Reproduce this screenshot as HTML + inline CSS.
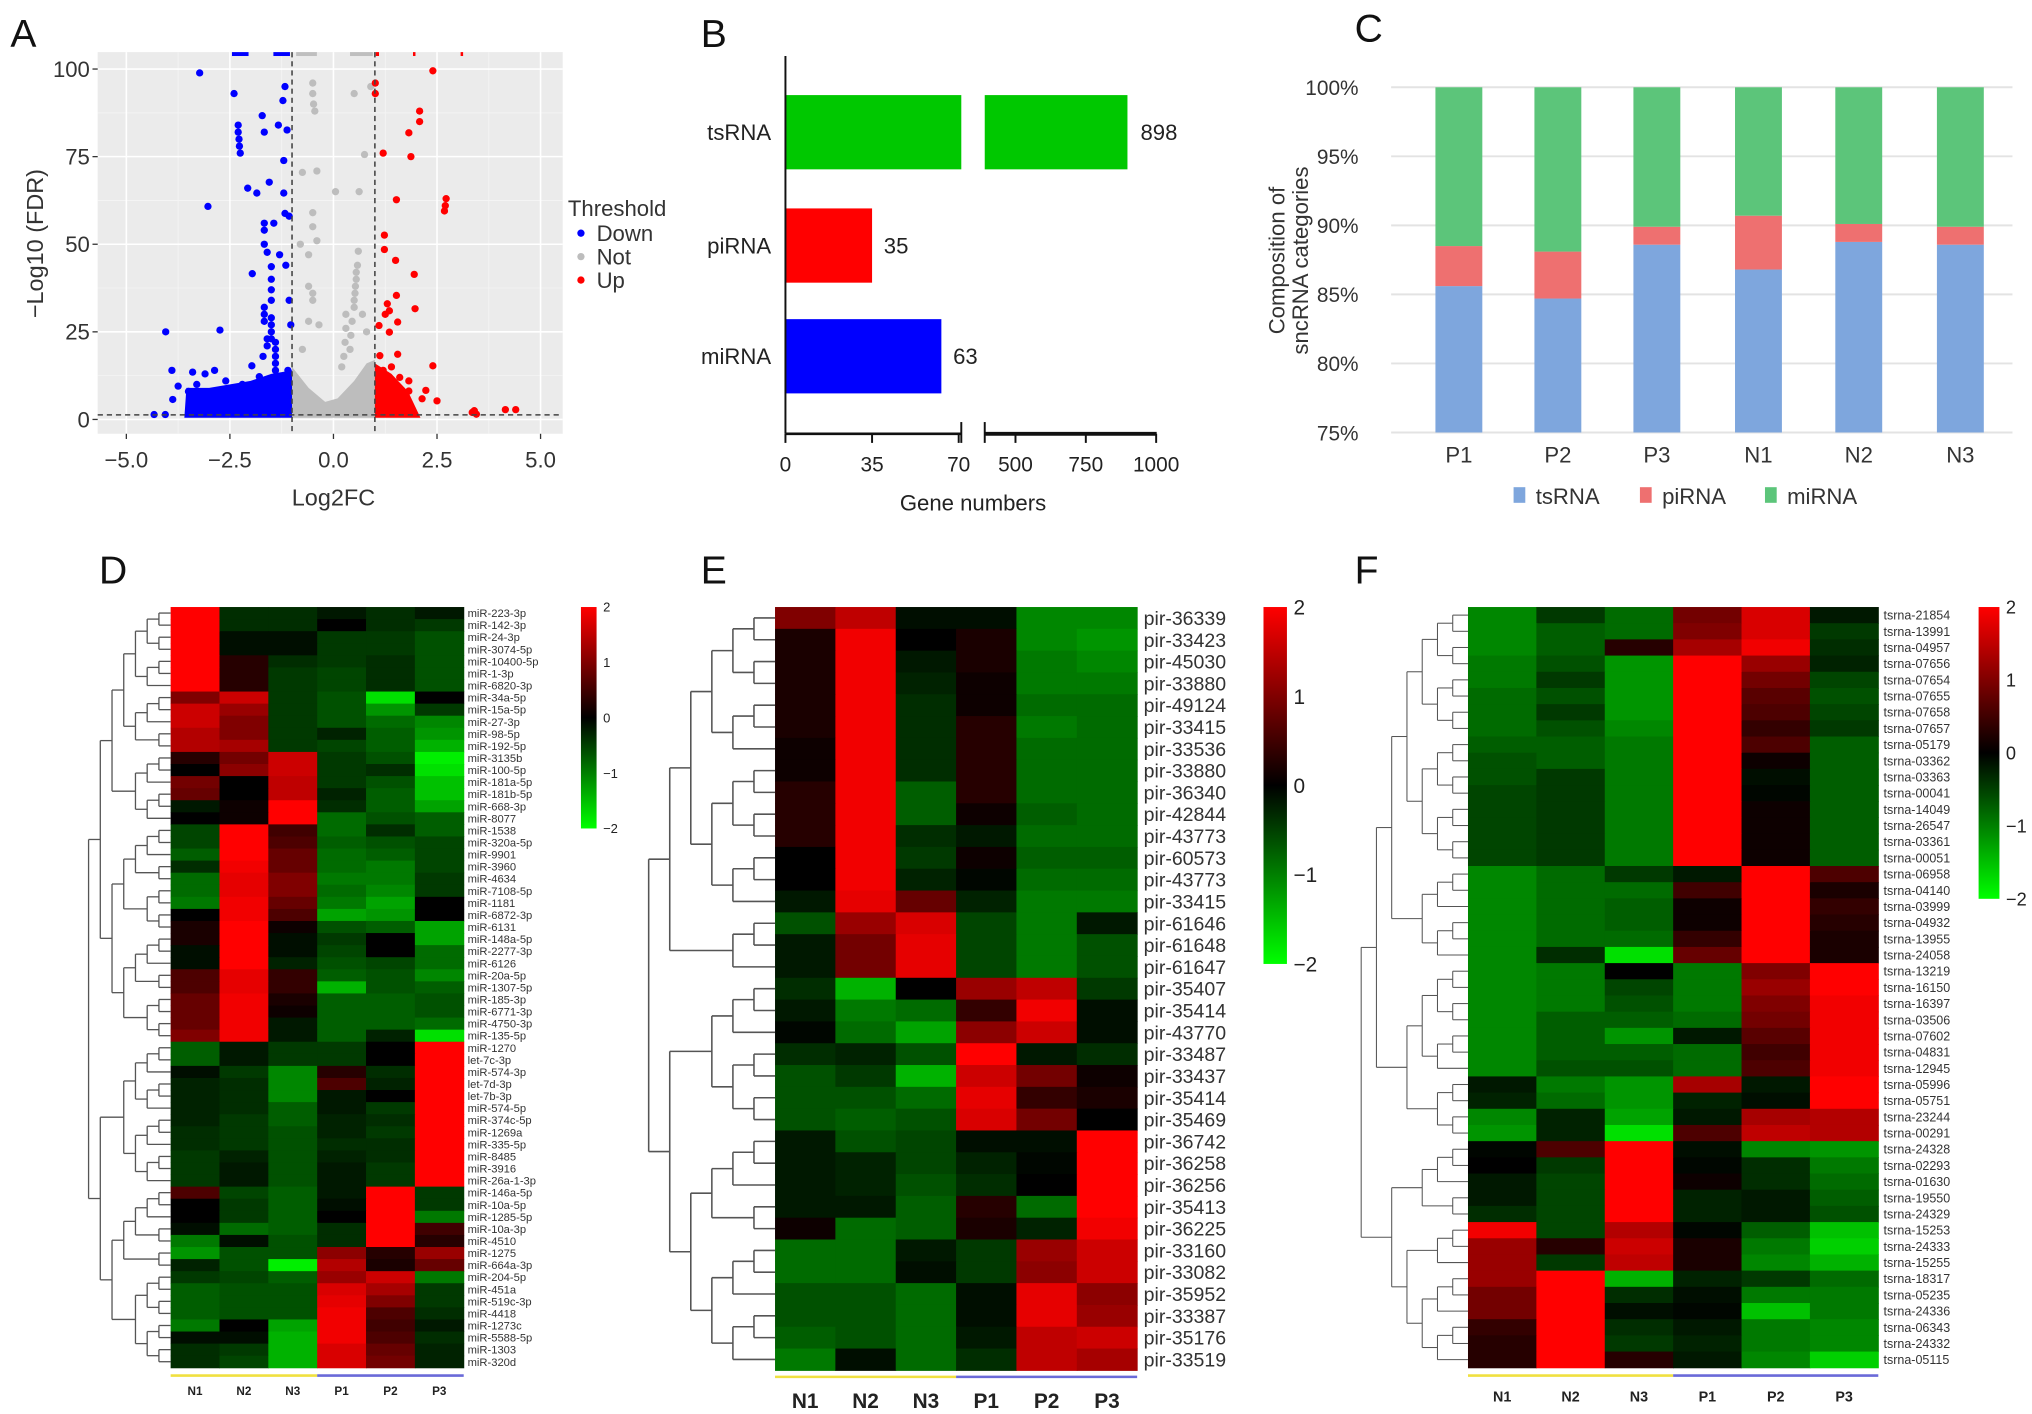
<!DOCTYPE html>
<html><head><meta charset="utf-8">
<style>
html,body{margin:0;padding:0;background:#fff;}
svg{display:block;font-family:"Liberation Sans",Arial,sans-serif;}
</style></head>
<body>
<svg id="fig" width="2032" height="1414" viewBox="0 0 1560 1085.5" preserveAspectRatio="none" xmlns="http://www.w3.org/2000/svg">
<g font-size="30" fill="#111">
<text x="8" y="36">A</text>
<text x="538" y="36">B</text>
<text x="1040" y="32">C</text>
<text x="76" y="448">D</text>
<text x="538" y="448">E</text>
<text x="1040" y="448">F</text>
</g>
<g id="pA"></g>
<g id="pB"></g>
<g id="pC"></g>
<g id="pD"></g>
<g id="pE"></g>
<g id="pF"></g>
</svg>
<script>
// ---------- Panel A data ----------
const downPts = [[-3.23,98.9],[-2.4,93],[-1.17,95],[-1.22,91],[-1.72,86.7],[-1.67,82],[-1.33,84],[-1.12,82.6],[-2.3,84],[-2.3,82],[-2.28,80],[-2.27,78],[-2.25,76],[-1.2,73.9],[-2.07,66],[-1.85,64.6],[-1.55,67.7],[-1.2,64.6],[-3.03,60.8],[-1.17,58.8],[-1.07,58],[-1.67,56],[-1.67,54],[-1.44,56],[-1.67,50],[-1.6,47.7],[-1.3,47],[-1.15,44],[-1.96,41.6],[-1.5,43.6],[-1.5,40],[-1.5,37],[-1.5,34],[-1.07,34],[-1.67,32],[-1.67,30],[-1.67,28],[-1.5,29],[-1.5,27],[-1.5,25],[-1.5,23],[-1.03,27],[-4.05,25],[-2.74,25.5],[-1.6,23],[-1.6,21],[-1.4,22],[-1.4,20],[-1.4,18],[-1.4,16],[-1.4,14],[-1.7,18],[-1.97,15.3],[-1.79,12.2],[-3.9,14],[-3.75,9.5],[-3.88,5.7],[-4.33,1.4],[-4.06,1.4],[-2.87,14],[-3.4,13.5],[-3.1,13],[-1.3,12],[-1.2,10],[-1.1,14],[-2.6,11],[-2.2,10],[-3.3,10],[-3.5,8]];
const upPts = [[2.4,99.5],[2.08,88],[2.08,85],[1.82,81.8],[1.87,75],[1.2,76],[1.01,96],[1.01,93],[1.52,62.7],[2.72,63],[2.7,61],[2.68,59.5],[1.23,52.6],[1.23,48.5],[1.5,45.4],[1.95,41.4],[1.52,35.4],[1.97,31.6],[1.3,33],[1.35,31],[1.25,30],[1.55,27.8],[1.1,26.8],[1.35,24.9],[2.4,15.3],[2.23,8.3],[1.82,11],[1.82,8.1],[2.14,5.9],[2.5,5.3],[3.4,2.5],[3.45,1.5],[3.35,2],[4.15,2.8],[4.4,2.8],[1.55,18.6],[1.12,18.2],[1.4,15],[1.6,12],[1.2,14]];
const notPts = [[0.5,93],[0.9,95],[-0.5,96],[-0.5,93],[-0.48,90],[-0.45,88],[0.75,75.6],[-0.75,70.5],[-0.4,70.9],[0.05,65],[0.62,65],[-0.5,59],[-0.5,55],[-0.4,51],[-0.8,50],[-0.6,47],[0.6,48],[0.58,44],[0.55,42],[0.55,40],[0.53,38],[0.52,36],[0.5,34],[0.5,32],[-0.6,38],[-0.5,36],[-0.5,34],[-0.6,28],[-0.35,27],[0.3,30],[0.3,26],[0.28,22],[0.25,18],[0.45,28],[0.42,24],[0.4,20],[-0.75,20],[0.7,30],[0.8,25],[0.2,15]];
const topClip = [[-2.45,-2.05,'#0000ff'],[-1.45,-1.05,'#0000ff'],[-0.9,-0.4,'#bfbfbf'],[0.4,0.95,'#bfbfbf'],[1.02,1.1,'#ff0000'],[1.92,1.98,'#ff0000'],[3.07,3.13,'#ff0000']];
const blueEnv = [[-3.6,0.5],[-3.55,9],[-3.0,9],[-2.5,10],[-2.0,11],[-1.5,13],[-1.0,14],[-1.0,0.5]];
const grayEnv = [[-1.0,0.5],[-1.0,15],[-0.6,9],[-0.2,5],[0.1,6],[0.5,11],[0.8,16],[1.0,17],[1.0,0.5]];
const redEnv = [[1.0,0.5],[1.0,16],[1.4,13],[1.8,8],[2.0,3],[2.1,0.5]];
const xTicksA = [-5,-2.5,0,2.5,5];
const yTicksA = [0,25,50,75,100];
// ---------- Panel B data ----------
const bCats = ['tsRNA','piRNA','miRNA'];
const bVals = [898,35,63];
const bColors = ['#00c800','#ff0000','#0000ff'];
const bTicksLow = [0,35,70];
const bTicksHigh = [500,750,1000];
// ---------- Panel C data ----------
const cSamples = ['P1','P2','P3','N1','N2','N3'];
const cTs = [85.6,84.7,88.6,86.8,88.8,88.6];
const cPi = [2.9,3.4,1.3,3.9,1.3,1.3];
const cMi = [11.5,11.9,10.1,9.3,9.9,10.1];
const cTicks = [75,80,85,90,95,100];
// ---------- Heatmap data ----------
const hmCols = ['N1','N2','N3','P1','P2','P3'];
const dLabels = ['miR-223-3p','miR-142-3p','miR-24-3p','miR-3074-5p','miR-10400-5p','miR-1-3p','miR-6820-3p','miR-34a-5p','miR-15a-5p','miR-27-3p','miR-98-5p','miR-192-5p','miR-3135b','miR-100-5p','miR-181a-5p','miR-181b-5p','miR-668-3p','miR-8077','miR-1538','miR-320a-5p','miR-9901','miR-3960','miR-4634','miR-7108-5p','miR-1181','miR-6872-3p','miR-6131','miR-148a-5p','miR-2277-3p','miR-6126','miR-20a-5p','miR-1307-5p','miR-185-3p','miR-6771-3p','miR-4750-3p','miR-135-5p','miR-1270','let-7c-3p','miR-574-3p','let-7d-3p','let-7b-3p','miR-574-5p','miR-374c-5p','miR-1269a','miR-335-5p','miR-8485','miR-3916','miR-26a-1-3p','miR-146a-5p','miR-10a-5p','miR-1285-5p','miR-10a-3p','miR-4510','miR-1275','miR-664a-3p','miR-204-5p','miR-451a','miR-519c-3p','miR-4418','miR-1273c','miR-5588-5p','miR-1303','miR-320d'];
const dVals = [[2,-0.5,-0.5,-0.3,-0.5,-0.3],[2,-0.5,-0.5,0,-0.5,-0.6],[2,-0.2,-0.2,-0.6,-0.6,-0.8],[2,-0.2,-0.2,-0.6,-0.6,-0.8],[2,0.3,-0.5,-0.6,-0.5,-0.8],[2,0.3,-0.6,-0.7,-0.5,-0.8],[2,0.3,-0.6,-0.7,-0.5,-0.8],[1.0,1.6,-0.6,-0.8,-1.8,0],[1.6,1.2,-0.6,-0.8,-1.3,-0.6],[1.6,1.0,-0.6,-0.8,-1.0,-1.2],[1.4,1.0,-0.6,-0.4,-0.9,-1.3],[1.4,1.3,-0.6,-0.7,-0.9,-1.5],[0.3,0.9,1.6,-0.6,-0.8,-1.9],[0,1.1,1.6,-0.6,-0.5,-1.8],[0.9,0,1.5,-0.6,-0.8,-1.6],[0.8,0,1.5,-0.4,-0.9,-1.6],[-0.3,0.1,2,-0.5,-0.9,-1.4],[0,0.1,2,-1.0,-0.8,-0.9],[-0.7,2,0.5,-1.0,-0.5,-0.9],[-0.7,2,0.6,-0.9,-0.8,-0.7],[-0.9,2,0.8,-1.0,-0.9,-0.7],[-0.5,1.9,0.8,-1.0,-1.1,-0.7],[-1.0,1.8,1.0,-1.1,-1.1,-0.6],[-1.0,1.8,1.0,-1.0,-1.2,-0.6],[-1.1,1.9,0.8,-1.1,-1.4,0],[0,1.9,0.6,-1.4,-1.3,0],[0.2,2,0.1,-0.8,-0.9,-1.4],[0.2,2,-0.2,-0.6,0,-1.4],[-0.2,2,-0.2,-0.7,0,-1.0],[-0.2,2,-0.4,-0.8,-0.7,-1.0],[0.6,1.8,0.4,-0.9,-0.8,-1.2],[0.6,1.8,0.4,-1.5,-0.8,-0.9],[0.8,1.9,0.2,-0.9,-0.9,-0.8],[0.8,1.9,0.1,-0.9,-0.9,-0.8],[0.8,1.9,-0.3,-0.9,-0.9,-1.0],[1.0,1.9,-0.3,-0.9,-0.4,-1.8],[-0.9,-0.3,-0.6,-0.6,0,2],[-0.9,-0.3,-0.6,-0.6,0,2],[-0.2,-0.6,-1.2,0.3,-0.5,2],[-0.4,-0.5,-1.2,0.6,-0.4,2],[-0.4,-0.5,-1.2,-0.3,0,2],[-0.4,-0.5,-0.9,-0.3,-0.6,2],[-0.4,-0.6,-0.9,-0.4,-0.5,2],[-0.5,-0.6,-0.8,-0.4,-0.6,2],[-0.5,-0.6,-0.8,-0.5,-0.5,2],[-0.6,-0.4,-0.8,-0.4,-0.5,2],[-0.6,-0.3,-0.8,-0.3,-0.6,2],[-0.6,-0.3,-0.8,-0.3,-0.6,2],[0.6,-0.7,-0.9,-0.3,2,-0.6],[0,-0.6,-0.9,-0.2,2,-0.6],[0,-0.6,-0.9,0,2,-1.1],[-0.2,-1.0,-0.9,-0.5,2,0.5],[-1.1,-0.2,-0.8,-0.5,2,0.3],[-1.3,-0.8,-0.8,1.1,0.3,1.2],[-0.4,-0.8,-1.9,1.4,0.2,0.8],[-0.6,-0.7,-0.9,1.2,1.6,-1.1],[-0.9,-0.8,-0.8,1.7,1.3,-0.6],[-0.9,-0.8,-0.8,1.8,1.0,-0.6],[-0.9,-0.8,-0.8,1.9,0.6,-0.5],[-1.1,0,-1.4,1.9,0.5,-0.3],[-0.2,-0.2,-1.5,1.9,0.6,-0.5],[-0.5,-0.6,-1.5,1.7,0.8,-0.4],[-0.5,-0.7,-1.5,1.7,0.9,-0.4]];
const eLabels = ['pir-36339','pir-33423','pir-45030','pir-33880','pir-49124','pir-33415','pir-33536','pir-33880','pir-36340','pir-42844','pir-43773','pir-60573','pir-43773','pir-33415','pir-61646','pir-61648','pir-61647','pir-35407','pir-35414','pir-43770','pir-33487','pir-33437','pir-35414','pir-35469','pir-36742','pir-36258','pir-36256','pir-35413','pir-36225','pir-33160','pir-33082','pir-35952','pir-33387','pir-35176','pir-33519'];
const eVals = [[1.0,1.5,-0.2,-0.2,-1.2,-1.2],[0.2,1.9,0,0.2,-1.2,-1.3],[0.2,1.9,-0.3,0.2,-1.1,-1.2],[0.2,1.9,-0.4,0.1,-1.1,-1.1],[0.2,1.9,-0.5,0.1,-1.0,-1.0],[0.2,1.9,-0.5,0.3,-1.1,-1.0],[0.1,1.9,-0.5,0.3,-1.0,-1.0],[0.1,1.9,-0.5,0.3,-1.0,-1.0],[0.3,1.9,-0.9,0.3,-1.0,-1.0],[0.3,1.9,-0.9,0.1,-0.9,-1.0],[0.3,1.9,-0.5,-0.3,-1.0,-1.0],[0,1.9,-0.6,0.1,-0.9,-0.9],[0,1.9,-0.4,-0.1,-1.0,-1.0],[-0.3,1.8,0.8,-0.4,-1.1,-1.1],[-0.8,1.2,1.7,-0.7,-1.1,-0.3],[-0.3,0.9,1.8,-0.7,-1.1,-0.8],[-0.3,0.9,1.8,-0.7,-1.1,-0.8],[-0.5,-1.5,0,1.2,1.5,-0.6],[-0.3,-1.1,-1.0,0.4,1.9,-0.2],[-0.1,-1.0,-1.4,1.1,1.6,-0.2],[-0.5,-0.4,-0.8,2,-0.3,-0.5],[-0.8,-0.6,-1.5,1.6,0.9,0.1],[-0.8,-0.8,-1.0,1.8,0.4,0.2],[-0.8,-0.9,-0.8,1.7,0.9,0],[-0.3,-0.8,-0.7,-0.2,-0.2,2],[-0.3,-0.4,-0.7,-0.4,-0.1,2],[-0.3,-0.4,-0.8,-0.5,0,2],[-0.3,-0.3,-0.9,0.3,-1.0,2],[0.1,-1.0,-0.9,0.2,-0.4,1.9],[-1.0,-1.0,-0.3,-0.6,1.2,1.6],[-1.0,-1.0,-0.2,-0.6,1.1,1.6],[-0.8,-0.8,-1.0,-0.2,1.8,1.1],[-0.8,-0.8,-1.0,-0.2,1.8,1.2],[-0.9,-0.8,-1.0,-0.3,1.5,1.6],[-1.1,-0.2,-1.0,-0.5,1.5,1.3]];
const fLabels = ['tsrna-21854','tsrna-13991','tsrna-04957','tsrna-07656','tsrna-07654','tsrna-07655','tsrna-07658','tsrna-07657','tsrna-05179','tsrna-03362','tsrna-03363','tsrna-00041','tsrna-14049','tsrna-26547','tsrna-03361','tsrna-00051','tsrna-06958','tsrna-04140','tsrna-03999','tsrna-04932','tsrna-13955','tsrna-24058','tsrna-13219','tsrna-16150','tsrna-16397','tsrna-03506','tsrna-07602','tsrna-04831','tsrna-12945','tsrna-05996','tsrna-05751','tsrna-23244','tsrna-00291','tsrna-24328','tsrna-02293','tsrna-01630','tsrna-19550','tsrna-24329','tsrna-15253','tsrna-24333','tsrna-15255','tsrna-18317','tsrna-05235','tsrna-24336','tsrna-06343','tsrna-24332','tsrna-05115'];
const fVals = [[-1.2,-0.6,-1.0,0.9,1.7,-0.3],[-1.2,-0.9,-1.0,1.0,1.7,-0.6],[-1.2,-0.9,0.3,1.3,1.9,-0.5],[-1.1,-0.8,-1.3,2,1.2,-0.4],[-1.1,-0.6,-1.3,2,0.9,-0.7],[-1.0,-0.8,-1.3,2,0.7,-0.8],[-1.0,-0.6,-1.3,2,0.6,-0.7],[-1.0,-0.8,-1.2,2,0.4,-0.6],[-0.9,-0.9,-1.1,2,0.6,-0.9],[-0.8,-0.9,-1.1,2,0.1,-0.9],[-0.8,-0.6,-1.1,2,-0.2,-0.9],[-0.7,-0.6,-1.1,2,-0.1,-0.9],[-0.7,-0.6,-1.1,2,0.1,-0.9],[-0.7,-0.6,-1.1,2,0.1,-0.9],[-0.7,-0.6,-1.1,2,0.1,-0.9],[-0.7,-0.6,-1.1,2,0.1,-0.9],[-1.2,-1.0,-0.6,-0.3,2,0.6],[-1.2,-1.0,-1.0,0.5,2,0.2],[-1.2,-1.0,-0.9,0.1,2,0.4],[-1.2,-1.0,-0.9,0.1,2,0.3],[-1.2,-1.0,-1.0,0.4,2,0.2],[-1.2,-0.5,-1.8,0.8,2,0.2],[-1.2,-1.1,0,-1.1,1.0,2],[-1.2,-1.1,-0.7,-1.1,1.2,2],[-1.2,-1.1,-0.8,-1.1,1.0,1.9],[-1.2,-0.9,-0.9,-1.0,0.9,1.9],[-1.2,-0.9,-1.3,-0.3,0.7,1.9],[-1.2,-0.9,-0.9,-1.0,0.5,1.9],[-1.2,-0.8,-0.8,-1.0,0.6,1.9],[-0.3,-1.1,-1.3,1.3,-0.3,2],[-0.4,-1.0,-1.3,-0.4,-0.2,2],[-1.2,-0.4,-1.4,-0.3,1.3,1.4],[-1.3,-0.4,-1.8,0.6,1.5,1.4],[-0.1,0.6,2,-0.2,-1.2,-1.3],[0,-0.6,2,-0.1,-0.5,-1.1],[-0.3,-0.7,2,0.1,-0.5,-1.0],[-0.3,-0.7,2,-0.4,-0.3,-0.9],[-0.5,-0.7,2,-0.4,-0.3,-0.8],[1.9,-0.7,1.4,-0.1,-0.9,-1.6],[1.2,0.3,1.6,0.2,-1.1,-1.7],[1.2,-0.6,1.5,0.2,-1.2,-1.5],[1.2,2,-1.5,-0.4,-0.6,-1.0],[0.9,2,-0.5,-0.2,-1.1,-1.1],[0.9,2,-0.2,-0.1,-1.6,-1.1],[0.4,2,-0.5,-0.3,-1.1,-1.2],[0.3,2,-0.6,-0.4,-1.1,-1.2],[0.3,2,0.3,-0.3,-1.2,-1.7]];
const cbTicks = [2,1,0,-1,-2];

const NS='http://www.w3.org/2000/svg';
function mk(parent,tag,attrs,text){const e=document.createElementNS(NS,tag);for(const k in attrs)e.setAttribute(k,attrs[k]);if(text!==undefined)e.textContent=text;parent.appendChild(e);return e;}

// ================= Panel A =================
(function(){
  const g=document.getElementById('pA');
  const L=75,R=432,T=40,B=333;
  const X=v=>256+v*31.8, Y=v=>322-v*2.69;
  const bg=mk(g,'rect',{x:L,y:T,width:R-L,height:B-T,fill:'#ebebeb'});
  
  
  [-3.75,-1.25,1.25,3.75].forEach(v=>mk(g,'line',{x1:X(v),x2:X(v),y1:T,y2:B,stroke:'#f5f5f5','stroke-width':0.6}));
  [12.5,37.5,62.5,87.5].forEach(v=>mk(g,'line',{x1:L,x2:R,y1:Y(v),y2:Y(v),stroke:'#f5f5f5','stroke-width':0.6}));
  xTicksA.forEach(v=>{mk(g,'line',{x1:X(v),x2:X(v),y1:T,y2:B,stroke:'#fff','stroke-width':1.2});
    mk(g,'line',{x1:X(v),x2:X(v),y1:B,y2:B+4,stroke:'#333'});
    const t=mk(g,'text',{x:X(v),y:B+26,'text-anchor':'middle','font-size':17,fill:'#333'},v.toFixed(1).replace('-','−'));
    
    });
  yTicksA.forEach(v=>{mk(g,'line',{x1:L,x2:R,y1:Y(v),y2:Y(v),stroke:'#fff','stroke-width':1.2});
    mk(g,'line',{x1:L-4,x2:L,y1:Y(v),y2:Y(v),stroke:'#333'});
    const t=mk(g,'text',{x:L-6,y:Y(v)+6,'text-anchor':'end','font-size':17,fill:'#333'},String(v));
    
    });
  [[blueEnv,'#0000ff'],[grayEnv,'#bdbdbd'],[redEnv,'#ff0000']].forEach(([env,c])=>{
    const p=mk(g,'polygon',{points:env.map(d=>X(d[0])+','+Y(d[1])).join(' '),fill:c});
    
    });
  topClip.forEach(d=>mk(g,'rect',{x:X(d[0]),y:T,width:X(d[1])-X(d[0]),height:3,fill:d[2]}));
  [[notPts,'#bdbdbd'],[downPts,'#0000ff'],[upPts,'#ff0000']].forEach(([pts,c])=>pts.forEach(d=>{
    const ci=mk(g,'circle',{cx:X(d[0]),cy:Y(d[1]),r:2.8,fill:c});
    
    }));
  [-1,1].forEach(v=>mk(g,'line',{x1:X(v),x2:X(v),y1:T,y2:B,stroke:'#444','stroke-dasharray':'4,3','stroke-width':1.2}));
  mk(g,'line',{x1:L,x2:R,y1:Y(1.3),y2:Y(1.3),stroke:'#444','stroke-dasharray':'4,3','stroke-width':1.2});
  const xt=mk(g,'text',{x:256,y:388,'text-anchor':'middle','font-size':18,fill:'#333'},'Log2FC');
  
  
  const yt=mk(g,'text',{x:0,y:0,transform:'translate(33,187) rotate(-90)','text-anchor':'middle','font-size':18,fill:'#333'},'−Log10 (FDR)');
  
  
  const lg=mk(g,'g',{});
  
  
  mk(lg,'text',{x:436,y:166,'font-size':17,fill:'#333'},'Threshold');
  [['Down','#0000ff'],['Not','#bdbdbd'],['Up','#ff0000']].forEach((d,i)=>{
    mk(lg,'circle',{cx:446,cy:179+i*18,r:2.8,fill:d[1]});
    const t=mk(lg,'text',{x:458,y:185+i*18,'font-size':17,fill:'#333'},d[0]);
    
    });
})();

// ================= Panel B =================
(function(){
  const g=document.getElementById('pB');
  const x0=603, lowW=(736-603)/70, hiStart=400, hiX0=758, hiS=(888-780)/500;
  const XL=v=>x0+v*lowW, XH=v=>hiX0+(v-hiStart)*hiS;
  const ys=[73,160,245], bh=57;
  bCats.forEach((c,i)=>{
    const v=bVals[i];
    if(v<=70){const r=mk(g,'rect',{x:x0,y:ys[i],width:XL(v)-x0,height:bh,fill:bColors[i]});
      
      
      mk(g,'text',{x:XL(v)+9,y:ys[i]+bh/2+6,'font-size':17,fill:'#222'},String(v));}
    else{const r1=mk(g,'rect',{x:x0,y:ys[i],width:738-x0,height:bh,fill:bColors[i]});
      
      
      const r2=mk(g,'rect',{x:756,y:ys[i],width:XH(v)-756,height:bh,fill:bColors[i]});
      
      
      mk(g,'text',{x:XH(v)+10,y:ys[i]+bh/2+6,'font-size':17,fill:'#222'},String(v));}
    const t=mk(g,'text',{x:592,y:ys[i]+bh/2+6,'text-anchor':'end','font-size':17,fill:'#222'},c);
    
    
  });
  mk(g,'line',{x1:x0,x2:x0,y1:43,y2:333,stroke:'#111','stroke-width':1.5});
  mk(g,'line',{x1:x0,x2:738,y1:333,y2:333,stroke:'#111','stroke-width':2});
  mk(g,'line',{x1:756,x2:888,y1:333,y2:333,stroke:'#111','stroke-width':3});
  mk(g,'line',{x1:738,x2:738,y1:324,y2:340,stroke:'#111','stroke-width':1.5});
  mk(g,'line',{x1:756,x2:756,y1:324,y2:340,stroke:'#111','stroke-width':1.5});
  bTicksLow.forEach(v=>{mk(g,'line',{x1:XL(v),x2:XL(v),y1:333,y2:340,stroke:'#111','stroke-width':1.5});
    const t=mk(g,'text',{x:XL(v),y:362,'text-anchor':'middle','font-size':16,fill:'#222'},String(v));
    
    });
  bTicksHigh.forEach(v=>{mk(g,'line',{x1:XH(v),x2:XH(v),y1:333,y2:340,stroke:'#111','stroke-width':1.5});
    const t=mk(g,'text',{x:XH(v),y:362,'text-anchor':'middle','font-size':16,fill:'#222'},String(v));
    
    });
  const xt=mk(g,'text',{x:747,y:392,'text-anchor':'middle','font-size':17,fill:'#222'},'Gene numbers');
  
  
})();

// ================= Panel C =================
(function(){
  const g=document.getElementById('pC');
  const Y=v=>332-(v-75)*(332-67)/25;
  const cx=[1120,1196,1272,1350,1427,1505], w=36;
  cTicks.forEach(v=>{mk(g,'line',{x1:1068,x2:1545,y1:Y(v),y2:Y(v),stroke:'#e3e3e3','stroke-width':1.5});
    const t=mk(g,'text',{x:1043,y:Y(v)+6,'text-anchor':'end','font-size':16,fill:'#333'},v+'%');
    
    });
  cSamples.forEach((s,i)=>{
    const a=cTs[i], b=a+cPi[i], c=Math.min(100,b+cMi[i]);
    const r1=mk(g,'rect',{x:cx[i]-w/2,y:Y(a),width:w,height:Y(75)-Y(a),fill:'#7ea6dd'});
    
    
    const r2=mk(g,'rect',{x:cx[i]-w/2,y:Y(b),width:w,height:Y(a)-Y(b),fill:'#ee7070'});
    
    
    const r3=mk(g,'rect',{x:cx[i]-w/2,y:Y(c),width:w,height:Y(b)-Y(c),fill:'#5cc57a'});
    
    
    const t=mk(g,'text',{x:cx[i],y:355,'text-anchor':'middle','font-size':17,fill:'#333'},s);
    
    
  });
  const yt=mk(g,'text',{transform:'translate(986,200) rotate(-90)','text-anchor':'middle','font-size':17,fill:'#333'});
  
  
  mk(yt,'tspan',{x:0,y:0},'Composition of');
  mk(yt,'tspan',{x:0,y:18},'sncRNA categories');
  [['tsRNA','#7ea6dd',1162],['piRNA','#ee7070',1259],['miRNA','#5cc57a',1355]].forEach(d=>{
    mk(g,'rect',{x:d[2],y:374,width:9,height:12,fill:d[1]});
    const t=mk(g,'text',{x:d[2]+17,y:387,'font-size':17,fill:'#333'},d[0]);
    
    });
})();

// ================= Heatmaps =================
function col(v){v=Math.max(-2,Math.min(2,v));
  if(v>=0)return 'rgb('+Math.round(255*v/2)+',0,0)';
  const t=-v/2;return 'rgb(0,'+Math.round(255*Math.pow(t,1.25))+',0)';}
function R(a,b){if(a===b)return a;const m=Math.floor((a+b)/2);return [R(a,m),R(m+1,b)];}
function dendro(g,tree,rowY,right,left,sw,color){
  function depth(n){return typeof n==='number'?0:1+Math.max(...n.map(depth));}
  const maxD=depth(tree), unit=(right-left)/maxD;
  function draw(n){
    if(typeof n==='number')return {y:rowY(n),x:right};
    const ch=n.map(draw), d=depth(n), x=right-d*unit;
    ch.forEach(c=>mk(g,'line',{x1:x,x2:c.x,y1:c.y,y2:c.y,stroke:color,'stroke-width':sw}));
    mk(g,'line',{x1:x,x2:x,y1:ch[0].y,y2:ch[ch.length-1].y,stroke:color,'stroke-width':sw});
    return {y:(ch[0].y+ch[ch.length-1].y)/2,x:x};
  }
  draw(tree);
}
function heatmap(o){
  const g=document.getElementById(o.id);
  const n=o.vals.length, rh=(o.B-o.T)/n, cw=(o.R-o.L)/6;
  o.vals.forEach((row,i)=>row.forEach((v,j)=>{
    const r=mk(g,'rect',{x:o.L+j*cw,y:o.T+i*rh,width:cw+0.4,height:rh+0.4,fill:col(v)});
    
    
  }));
  o.labels.forEach((l,i)=>{
    const t=mk(g,'text',{x:o.R+o.lgap,y:o.T+(i+0.5)*rh+o.lfs*0.36,'font-size':o.lfs,fill:'#333'},l);
    
    
  });
  dendro(g,o.tree,i=>o.T+(i+0.5)*rh,o.L,o.dL,o.dsw,'#555');
  mk(g,'line',{x1:o.L,x2:o.L+3*cw,y1:o.B+o.barGap,y2:o.B+o.barGap,stroke:'#f0e040','stroke-width':2});
  mk(g,'line',{x1:o.L+3*cw,x2:o.R,y1:o.B+o.barGap,y2:o.B+o.barGap,stroke:'#6a6ad8','stroke-width':2});
  hmCols.forEach((c,j)=>{
    const t=mk(g,'text',{x:o.L+(j+0.5)*cw,y:o.colY,'text-anchor':'middle','font-size':o.cfs,'font-weight':'bold',fill:'#222'},c);
    
    
  });
  const cb=mk(g,'g',{});
  
  
  const gid=o.id+'grad';
  const defs=mk(cb,'defs',{});
  const lg=mk(defs,'linearGradient',{id:gid,x1:0,y1:0,x2:0,y2:1});
  mk(lg,'stop',{offset:'0','stop-color':'#ff0000'});
  mk(lg,'stop',{offset:'0.5','stop-color':'#000000'});
  mk(lg,'stop',{offset:'1','stop-color':'#00ff00'});
  mk(cb,'rect',{x:o.cbX,y:o.cbT,width:o.cbW,height:o.cbB-o.cbT,fill:'url(#'+gid+')'});
  cbTicks.forEach((v,k)=>{
    const y=o.cbT+k*(o.cbB-o.cbT)/4;
    mk(cb,'text',{x:o.cbX+o.cbW+5,y:y+o.cbfs*0.36,'font-size':o.cbfs,fill:'#222'},v===0?'0':(v<0?'−'+(-v):String(v)));
  });
}
heatmap({id:'pD',vals:dVals,labels:dLabels,L:131,R:356,T:466,B:1050,lgap:3,lfs:8.6,dL:68,dsw:1,barGap:6,colY:1071,cfs:9,
  tree:[[[[R(0,6),R(7,11)],R(12,17)],R(18,35)],[R(36,47),[[R(48,52),R(53,54)],R(55,62)]]],
  cbX:446,cbT:466,cbB:636,cbW:12,cbfs:10});
heatmap({id:'pE',vals:eVals,labels:eLabels,L:595,R:873,T:466,B:1052,lgap:5,lfs:15,dL:498,dsw:1.2,barGap:5,colY:1081,cfs:16,
  tree:[[R(0,13),R(14,16)],[[R(17,19),R(20,23)],[R(24,28),R(29,34)]]],
  cbX:970,cbT:466,cbB:740,cbW:18,cbfs:16});
heatmap({id:'pF',vals:fVals,labels:fLabels,L:1127,R:1442,T:466,B:1050,lgap:4,lfs:9.6,dL:1045,dsw:0.8,barGap:6,colY:1076,cfs:11,
  tree:[[[R(0,15),R(16,21)],[R(22,28),R(29,32)]],[R(33,37),[R(38,40),R(41,46)]]],
  cbX:1519,cbT:466,cbB:690,cbW:16,cbfs:14});
</script>
</body></html>
